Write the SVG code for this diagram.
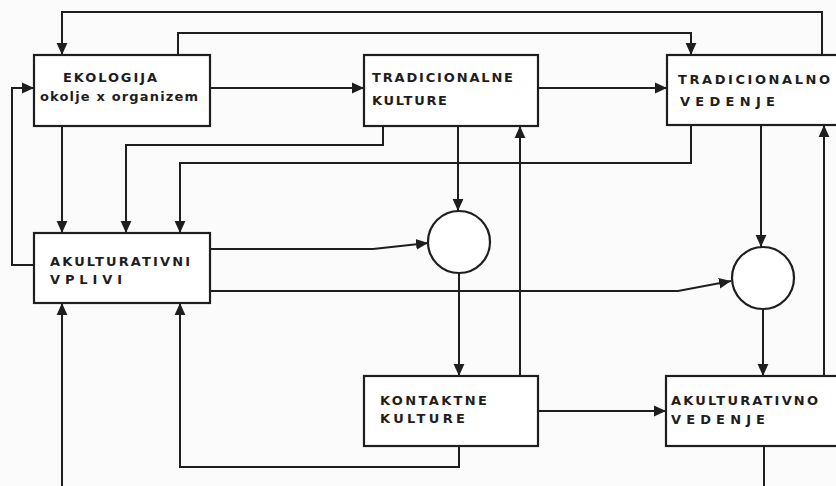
<svg xmlns="http://www.w3.org/2000/svg" width="836" height="486" viewBox="0 0 836 486">
<style>
.box{fill:#fff;stroke:#1e1e1e;stroke-width:2.2}
.circ{fill:#fff;stroke:#1e1e1e;stroke-width:2.2}
.con{fill:none;stroke:#1e1e1e;stroke-width:2;marker-end:url(#ah)}
.t{font-family:"DejaVu Sans","Liberation Sans",sans-serif;font-weight:bold;font-size:13px;fill:#1e1e1e}
</style>
<defs>
<marker id="ah" markerUnits="userSpaceOnUse" markerWidth="12" markerHeight="12" refX="10" refY="5" orient="auto" viewBox="0 0 10 10">
<path d="M0,0.5 L10,5 L0,9.5 Z" fill="#1e1e1e"/>
</marker>
</defs>
<rect width="836" height="486" fill="#fbfbfb"/>
<g id="connectors">
<path class="con" d="M822,55 V12 H62 V55"/>
<path class="con" d="M178,55 V33 H691 V55"/>
<path class="con" d="M210,88 H364"/>
<path class="con" d="M538,88 H667"/>
<path class="con" d="M62,126 V233"/>
<path class="con" d="M383,126 V145 H126 V233"/>
<path class="con" d="M691,125 V163 H180 V233"/>
<path class="con" d="M34,265 H12 V88 H34"/>
<path class="con" d="M458,126 V211"/>
<path class="con" d="M210,249 H373 L428,243"/>
<path class="con" d="M210,291 H678 L731,281"/>
<path class="con" d="M459,273 V376"/>
<path class="con" d="M520,376 V126"/>
<path class="con" d="M761,125 V247"/>
<path class="con" d="M763,309 V376"/>
<path class="con" d="M824,376 V125"/>
<path class="con" d="M538,411 H666"/>
<path class="con" d="M459,446 V467 H180 V303"/>
<path class="con" d="M764,446 V492 H62 V303"/>
</g>
<g id="ekologija">
<rect class="box" x="34" y="55" width="176" height="71"/>
<text class="t" x="63" y="82" textLength="94" lengthAdjust="spacing">EKOLOGIJA</text>
<text class="t" x="40" y="101" textLength="158" lengthAdjust="spacing">okolje x organizem</text>
</g>
<g id="tradicionalne-kulture">
<rect class="box" x="364" y="55" width="174" height="71"/>
<text class="t" x="372" y="82" textLength="141" lengthAdjust="spacing">TRADICIONALNE</text>
<text class="t" x="372" y="105" textLength="75" lengthAdjust="spacing">KULTURE</text>
</g>
<g id="tradicionalno-vedenje">
<rect class="box" x="667" y="55" width="180" height="70"/>
<text class="t" x="678" y="84" textLength="152" lengthAdjust="spacing">TRADICIONALNO</text>
<text class="t" x="680" y="106" textLength="95" lengthAdjust="spacing">VEDENJE</text>
</g>
<g id="akulturativni-vplivi">
<rect class="box" x="34" y="233" width="176" height="70"/>
<text class="t" x="50" y="266" textLength="140" lengthAdjust="spacing">AKULTURATIVNI</text>
<text class="t" x="50" y="284" textLength="72" lengthAdjust="spacing">VPLIVI</text>
</g>
<g id="krog-1">
<circle class="circ" cx="459" cy="242" r="31"/>
</g>
<g id="krog-2">
<circle class="circ" cx="763" cy="278" r="31"/>
</g>
<g id="kontaktne-kulture">
<rect class="box" x="364" y="376" width="174" height="70"/>
<text class="t" x="380" y="405" textLength="107" lengthAdjust="spacing">KONTAKTNE</text>
<text class="t" x="380" y="423" textLength="85" lengthAdjust="spacing">KULTURE</text>
</g>
<g id="akulturativno-vedenje">
<rect class="box" x="666" y="376" width="180" height="70"/>
<text class="t" x="671" y="405" textLength="147" lengthAdjust="spacing">AKULTURATIVNO</text>
<text class="t" x="671" y="424" textLength="94" lengthAdjust="spacing">VEDENJE</text>
</g>
</svg>
